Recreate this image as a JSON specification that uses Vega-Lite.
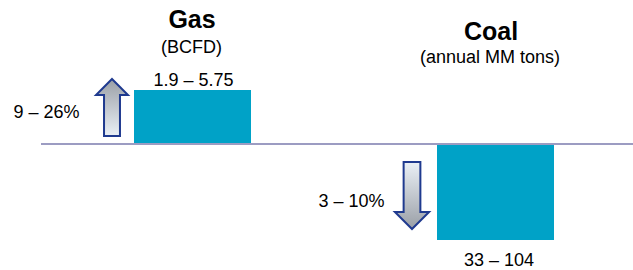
{
  "$schema": "https://vega.github.io/schema/vega-lite/v6.json",
  "width": 633,
  "height": 270,
  "padding": 0,
  "autosize": {"type": "none"},
  "background": "#ffffff",
  "config": {"view": {"stroke": null}, "text": {"font": "Liberation Sans"}},
  "datasets": {
    "bars": [
      {"fuel": "Gas", "x1": 134, "x2": 251, "y1": 0, "y2": 54},
      {"fuel": "Coal", "x1": 437, "x2": 554, "y1": 0, "y2": -96}
    ],
    "titles": [
      {"fuel": "Gas", "x": 192, "y": 116, "text": "Gas"},
      {"fuel": "Coal", "x": 491, "y": 104, "text": "Coal"}
    ],
    "labels": [
      {"x": 191.5, "y": 91, "text": "(BCFD)"},
      {"x": 490, "y": 81, "text": "(annual MM tons)"},
      {"x": 193.5, "y": 58, "text": "1.9 – 5.75"},
      {"x": 46.5, "y": 26, "text": "9 – 26%"},
      {"x": 351.5, "y": -63, "text": "3 – 10%"},
      {"x": 499, "y": -122, "text": "33 – 104"}
    ],
    "arrows": [
      {"dir": "up", "x": 112, "y": 36.5},
      {"dir": "down", "x": 412, "y": -51.5}
    ],
    "baseline": [
      {"x1": 41, "x2": 633, "y": 0}
    ]
  },
  "encoding": {
    "x": {"type": "quantitative", "scale": {"domain": [0, 633], "nice": false, "zero": false}, "axis": null},
    "y": {"type": "quantitative", "scale": {"domain": [-126, 144], "nice": false, "zero": false}, "axis": null}
  },
  "layer": [
    {
      "data": {"name": "bars"},
      "mark": {"type": "rect", "color": "#00a2c7"},
      "encoding": {
        "x": {"field": "x1", "type": "quantitative"},
        "x2": {"field": "x2"},
        "y": {"field": "y1", "type": "quantitative"},
        "y2": {"field": "y2"}
      }
    },
    {
      "data": {"name": "baseline"},
      "mark": {"type": "rule", "color": "#9c9cc2", "strokeWidth": 2},
      "encoding": {
        "x": {"field": "x1", "type": "quantitative"},
        "x2": {"field": "x2"},
        "y": {"field": "y", "type": "quantitative"}
      }
    },
    {
      "data": {"name": "arrows"},
      "transform": [{"filter": "datum.dir === 'up'"}],
      "mark": {
        "type": "point",
        "filled": true,
        "opacity": 1,
        "shape": "M0,-1 L0.56,-0.44 L0.28,-0.44 L0.28,1 L-0.28,1 L-0.28,-0.44 L-0.56,-0.44 Z",
        "size": 3249,
        "fill": {"gradient": "linear", "x1": 0, "y1": 0, "x2": 0, "y2": 1, "stops": [{"offset": 0, "color": "#9a9fa6"}, {"offset": 1, "color": "#eaf0f6"}]},
        "stroke": "#1f3a8f",
        "strokeWidth": 2,
        "strokeOpacity": 1
      },
      "encoding": {
        "x": {"field": "x", "type": "quantitative"},
        "y": {"field": "y", "type": "quantitative"}
      }
    },
    {
      "data": {"name": "arrows"},
      "transform": [{"filter": "datum.dir === 'down'"}],
      "mark": {
        "type": "point",
        "filled": true,
        "opacity": 1,
        "shape": "M-0.25,-1 L0.25,-1 L0.25,0.49 L0.51,0.49 L0,1 L-0.51,0.49 L-0.25,0.49 Z",
        "size": 4489,
        "fill": {"gradient": "linear", "x1": 0, "y1": 0, "x2": 0, "y2": 1, "stops": [{"offset": 0, "color": "#eaf0f6"}, {"offset": 1, "color": "#9a9fa6"}]},
        "stroke": "#1f3a8f",
        "strokeWidth": 2,
        "strokeOpacity": 1
      },
      "encoding": {
        "x": {"field": "x", "type": "quantitative"},
        "y": {"field": "y", "type": "quantitative"}
      }
    },
    {
      "data": {"name": "titles"},
      "mark": {"type": "text", "fontSize": 25, "fontWeight": "bold", "color": "#000000", "align": "center", "baseline": "alphabetic"},
      "encoding": {
        "x": {"field": "x", "type": "quantitative"},
        "y": {"field": "y", "type": "quantitative"},
        "text": {"field": "text"}
      }
    },
    {
      "data": {"name": "labels"},
      "mark": {"type": "text", "fontSize": 18, "color": "#000000", "align": "center", "baseline": "alphabetic"},
      "encoding": {
        "x": {"field": "x", "type": "quantitative"},
        "y": {"field": "y", "type": "quantitative"},
        "text": {"field": "text"}
      }
    }
  ]
}
